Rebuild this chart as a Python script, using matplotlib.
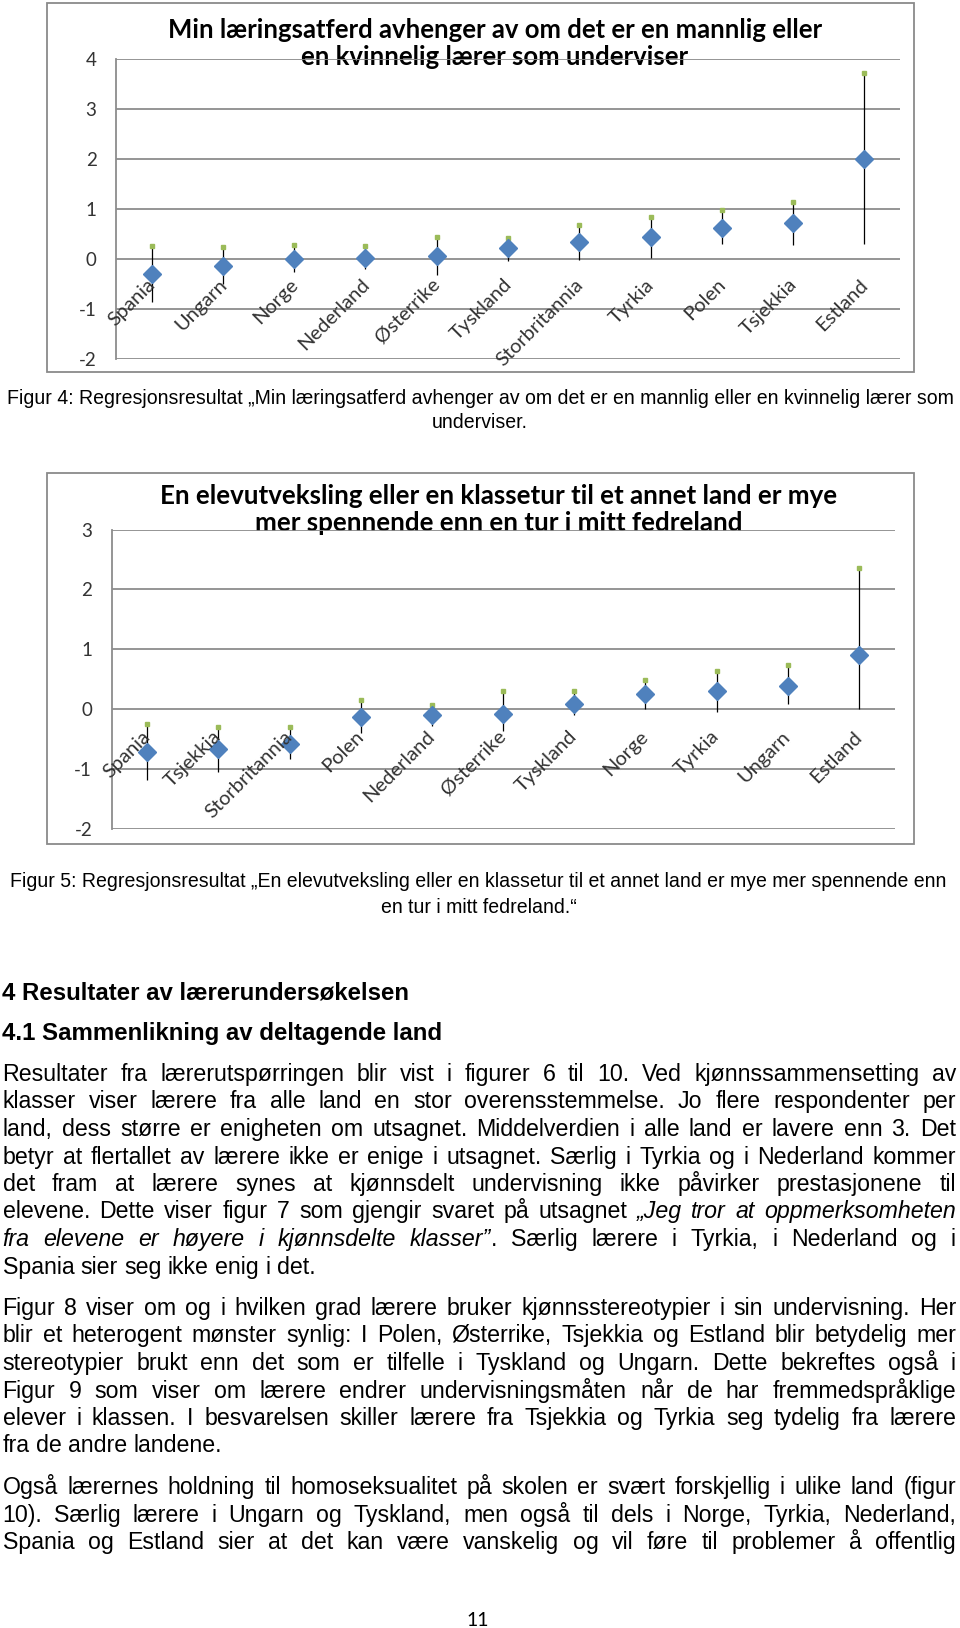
import numpy as np
import matplotlib
matplotlib.use('Agg')
import matplotlib.pyplot as plt
from matplotlib.patches import Rectangle
from matplotlib.font_manager import FontProperties
import matplotlib.transforms as mtransforms

plt.rcParams['axes.unicode_minus'] = False

# ---------------- data ----------------
cats1 = ['Spania', 'Ungarn', 'Norge', 'Nederland', 'Østerrike', 'Tyskland',
         'Storbritannia', 'Tyrkia', 'Polen', 'Tsjekkia', 'Estland']
mid1 = [-0.30, -0.14, 0.01, 0.03, 0.06, 0.22, 0.34, 0.44, 0.63, 0.72, 2.00]
high1 = [0.26, 0.24, 0.28, 0.26, 0.45, 0.43, 0.68, 0.85, 0.98, 1.15, 3.72]
low1 = [-0.86, -0.49, -0.26, -0.19, -0.32, -0.03, -0.01, 0.03, 0.30, 0.28, 0.30]
yticks1 = [-2, -1, 0, 1, 2, 3, 4]
title1 = ['Min læringsatferd avhenger av om det er en mannlig eller',
          'en kvinnelig lærer som underviser']

cats2 = ['Spania', 'Tsjekkia', 'Storbritannia', 'Polen', 'Nederland', 'Østerrike',
         'Tyskland', 'Norge', 'Tyrkia', 'Ungarn', 'Estland']
mid2 = [-0.72, -0.67, -0.58, -0.13, -0.11, -0.08, 0.09, 0.25, 0.30, 0.39, 0.90]
high2 = [-0.25, -0.30, -0.30, 0.15, 0.07, 0.30, 0.30, 0.48, 0.64, 0.73, 2.36]
low2 = [-1.19, -1.05, -0.84, -0.41, -0.29, -0.37, -0.11, 0.00, -0.05, 0.08, 0.00]
yticks2 = [-2, -1, 0, 1, 2, 3]
title2 = ['En elevutveksling eller en klassetur til et annet land er mye',
          'mer spennende enn en tur i mitt fedreland']

caption4 = ['Figur 4: Regresjonsresultat \u201eMin læringsatferd avhenger av om det er en mannlig eller en kvinnelig lærer som',
            'underviser.']
caption5 = ['Figur 5: Regresjonsresultat \u201eEn elevutveksling eller en klassetur til et annet land er mye mer spennende enn',
            'en tur i mitt fedreland.\u201c']
heading1 = '4 Resultater av lærerundersøkelsen'
heading2 = '4.1 Sammenlikning av deltagende land'

para1 = [
    [('Resultater fra lærerutspørringen blir vist i figurer 6 til 10. Ved kjønnssammensetting av', False)],
    [('klasser viser lærere fra alle land en stor overensstemmelse. Jo flere respondenter per', False)],
    [('land, dess større er enigheten om utsagnet. Middelverdien i alle land er lavere enn 3. Det', False)],
    [('betyr at flertallet av lærere ikke er enige i utsagnet. Særlig i Tyrkia og i Nederland kommer', False)],
    [('det fram at lærere synes at kjønnsdelt undervisning ikke påvirker prestasjonene til', False)],
    [('elevene. Dette viser figur 7 som gjengir svaret på utsagnet ', False),
     ('\u201eJeg tror at oppmerksomheten', True)],
    [('fra elevene er høyere i kjønnsdelte klasser\u201d', True),
     ('. Særlig lærere i Tyrkia, i Nederland og i', False)],
    [('Spania sier seg ikke enig i det.', False)],
]
para2 = [
    [('Figur 8 viser om og i hvilken grad lærere bruker kjønnsstereotypier i sin undervisning. Her', False)],
    [('blir et heterogent mønster synlig: I Polen, Østerrike, Tsjekkia og Estland blir betydelig mer', False)],
    [('stereotypier brukt enn det som er tilfelle i Tyskland og Ungarn. Dette bekreftes også i', False)],
    [('Figur 9 som viser om lærere endrer undervisningsmåten når de har fremmedspråklige', False)],
    [('elever i klassen. I besvarelsen skiller lærere fra Tsjekkia og Tyrkia seg tydelig fra lærere', False)],
    [('fra de andre landene.', False)],
]
para3 = [
    [('Også lærernes holdning til homoseksualitet på skolen er svært forskjellig i ulike land (figur', False)],
    [('10). Særlig lærere i Ungarn og Tyskland, men også til dels i Norge, Tyrkia, Nederland,', False)],
    [('Spania og Estland sier at det kan være vanskelig og vil føre til problemer å offentlig', False)],
]
page_number = '11'

# ---------------- setup ----------------
W, H = 960, 1628
fig = plt.figure(figsize=(W / 100, H / 100), dpi=100)
fig.patch.set_facecolor('white')
renderer = fig.canvas.get_renderer()

page = fig.add_axes([0, 0, 1, 1])
page.set_xlim(0, W)
page.set_ylim(H, 0)
page.axis('off')

BODY = 'Liberation Sans'
CHART = 'Lato'


def text_w(s, fs, family, weight='normal', style='normal'):
    prop = FontProperties(family=family, size=fs, weight=weight, style=style)
    return renderer.get_text_width_height_descent(s, prop, ismath=False)[0]


def fit_size(s, target, family, weight='normal', style='normal', base=12.0):
    return base * target / text_w(s, base, family, weight, style)


def ax_rect(l, t, r, b):
    return [l / W, 1 - b / H, (r - l) / W, (b - t) / H]


# ---------------- charts ----------------
def draw_chart(cats, mid, high, low, yticks, title, box, frame,
               title_cx, title_base, title_w, lab_dx, lab_dy):
    page.add_patch(Rectangle((frame[0], frame[1]), frame[2] - frame[0], frame[3] - frame[1],
                             fill=False, ec='#8a8a8a', lw=1.3, zorder=1))
    ax = fig.add_axes(ax_rect(*box))
    ax.set_facecolor('none')
    x = np.arange(len(cats))
    ax.vlines(x, low, high, color='black', lw=0.9, zorder=3)
    ax.plot(x, high, ls='none', marker='s', ms=3.0, color='#9BBB59', zorder=4)
    ax.plot(x, mid, ls='none', marker='D', ms=8.8, color='#4F81BD', zorder=5)
    ax.set_xlim(-0.5, len(cats) - 0.5)
    ax.set_ylim(min(yticks), max(yticks))
    ax.set_yticks(yticks)
    ax.set_yticklabels([str(v) for v in yticks], family=CHART, fontsize=13.5, color='#333333')
    ax.yaxis.grid(True, color='#8c8c8c', lw=1.3)
    ax.set_axisbelow(True)
    ax.set_xticks([])
    for s in ['top', 'right', 'bottom']:
        ax.spines[s].set_visible(False)
    ax.spines['left'].set_color('#8c8c8c')
    ax.spines['left'].set_linewidth(1.3)
    ax.tick_params(axis='y', length=0, pad=14.0)
    off = mtransforms.ScaledTranslation(lab_dx / 100, lab_dy / 100, fig.dpi_scale_trans)
    for i, c in enumerate(cats):
        ax.text(i, 0, c, rotation=45, rotation_mode='anchor', ha='right', va='top',
                family=CHART, fontsize=14.5, color='#333333',
                transform=ax.transData + off, zorder=6)
    fs = fit_size(title[0], title_w, CHART, weight='bold')
    for k, line in enumerate(title):
        page.text(title_cx, title_base + k * 27, line, ha='center', va='baseline',
                  family=CHART, weight='bold', fontsize=fs, color='black', zorder=10)
    return ax


draw_chart(cats1, mid1, high1, low1, yticks1, title1,
           box=(116, 59, 900, 359), frame=(47, 3, 914, 372),
           title_cx=495, title_base=38, title_w=651, lab_dx=-5, lab_dy=-17)
draw_chart(cats2, mid2, high2, low2, yticks2, title2,
           box=(111.6, 529.5, 894.5, 828.5), frame=(47, 473, 914, 844),
           title_cx=499, title_base=504, title_w=670, lab_dx=-6, lab_dy=-19)

# ---------------- text ----------------
fs_cap = fit_size(caption4[0], 946, BODY)
page.text(480, 404, caption4[0], ha='center', va='baseline', family=BODY, fontsize=fs_cap)
page.text(480, 428, caption4[1], ha='center', va='baseline', family=BODY, fontsize=fs_cap)
page.text(478, 887, caption5[0], ha='center', va='baseline', family=BODY, fontsize=fs_cap)
page.text(479, 913, caption5[1], ha='center', va='baseline', family=BODY, fontsize=fs_cap)

fs_h = fit_size(heading1, 405, BODY, weight='bold')
page.text(2, 1000, heading1, ha='left', va='baseline', family=BODY, weight='bold', fontsize=fs_h)
page.text(2, 1040, heading2, ha='left', va='baseline', family=BODY, weight='bold', fontsize=fs_h)

X0, X1 = 2.5, 956
fs_body = fit_size(para1[3][0][0], (X1 - X0) * 0.965, BODY)


def tokenize(segs):
    words, cur = [], []
    for text, it in segs:
        parts = text.split(' ')
        for j, p in enumerate(parts):
            if j > 0 and cur:
                words.append(cur)
                cur = []
            if p:
                cur.append((p, it))
    if cur:
        words.append(cur)
    return words


def seg_w(seg):
    return text_w(seg[0], fs_body, BODY, style='italic' if seg[1] else 'normal')


def draw_line(segs, y, justify):
    words = tokenize(segs)
    widths = [sum(seg_w(s) for s in w) for w in words]
    if justify and len(words) > 1:
        gap = (X1 - X0 - sum(widths)) / (len(words) - 1)
    else:
        gap = text_w(' ', fs_body, BODY)
    x = X0
    for w, ww in zip(words, widths):
        xx = x
        for s in w:
            page.text(xx, y, s[0], ha='left', va='baseline', family=BODY, fontsize=fs_body,
                      style='italic' if s[1] else 'normal')
            xx += seg_w(s)
        x += ww + gap


def draw_para(lines, y0, last_full=False):
    for k, segs in enumerate(lines):
        is_last = (k == len(lines) - 1)
        draw_line(segs, round(y0 + k * 27.5), justify=(not is_last) or last_full)


draw_para(para1, 1081)
draw_para(para2, 1315)
draw_para(para3, 1494, last_full=True)

page.text(478, 1626, page_number, ha='center', va='baseline', family=CHART, fontsize=14)

fig.savefig('out.png', dpi=100, facecolor='white')
